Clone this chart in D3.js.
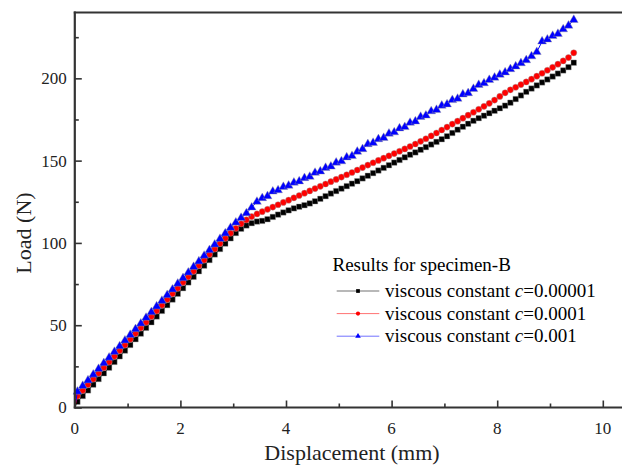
<!DOCTYPE html>
<html>
<head>
<meta charset="utf-8">
<script src="https://cdn.jsdelivr.net/npm/d3@7"></script>
<style>
  html, body { margin: 0; padding: 0; background: #fff; }
  svg { display: block; }
  svg text { font-family: "Liberation Serif", "DejaVu Serif", serif; }
</style>
</head>
<body>
<div id="chart"></div>
<script>
// displacement (mm): origin, then one reading every 0.1 mm
const disp = [0,
  0.05, 0.15, 0.25, 0.35, 0.45, 0.55, 0.65, 0.75, 0.85, 0.95,
  1.05, 1.15, 1.25, 1.35, 1.45, 1.55, 1.65, 1.75, 1.85, 1.95,
  2.05, 2.15, 2.25, 2.35, 2.45, 2.55, 2.65, 2.75, 2.85, 2.95,
  3.05, 3.15, 3.25, 3.35, 3.45, 3.55, 3.65, 3.75, 3.85, 3.95,
  4.05, 4.15, 4.25, 4.35, 4.45, 4.55, 4.65, 4.75, 4.85, 4.95,
  5.05, 5.15, 5.25, 5.35, 5.45, 5.55, 5.65, 5.75, 5.85, 5.95,
  6.05, 6.15, 6.25, 6.35, 6.45, 6.55, 6.65, 6.75, 6.85, 6.95,
  7.05, 7.15, 7.25, 7.35, 7.45, 7.55, 7.65, 7.75, 7.85, 7.95,
  8.05, 8.15, 8.25, 8.35, 8.45, 8.55, 8.65, 8.75, 8.85, 8.95,
  9.05, 9.15, 9.25, 9.35, 9.45];

// load (N), c = 0.00001
const loadC5 = [0,
  3.5, 7.0, 10.4, 13.9, 17.3, 20.8, 24.2, 27.7, 31.1, 34.6,
  38.0, 41.5, 44.9, 48.4, 51.8, 55.3, 58.7, 62.2, 65.6, 69.1,
  72.5, 76.0, 79.4, 82.8, 86.2, 89.6, 93.0, 96.3, 99.6, 102.8,
  106.0, 108.6, 110.6, 112.0, 113.0, 113.4, 114.4, 115.8, 117.2, 118.5,
  119.8, 121.0, 122.0, 122.9, 124.0, 125.3, 126.8, 128.4, 130.0, 131.5,
  133.0, 134.5, 136.0, 137.5, 139.2, 140.8, 142.4, 144.0, 145.6, 147.2,
  148.8, 150.4, 152.0, 153.6, 155.0, 156.6, 158.2, 159.8, 161.4, 163.0,
  164.8, 166.8, 168.8, 170.6, 172.4, 174.2, 175.8, 177.3, 178.8, 180.3,
  181.8, 183.4, 185.2, 187.4, 189.6, 191.8, 193.8, 195.7, 197.5, 199.3,
  201.1, 202.9, 204.8, 206.8, 209.5];

// load (N), c = 0.0001
const loadC4 = [0,
  7.0, 10.4, 13.9, 17.3, 20.8, 24.2, 27.7, 31.1, 34.6, 38.0,
  41.5, 44.9, 48.4, 51.8, 55.3, 58.7, 62.2, 65.6, 69.1, 72.5,
  76.0, 79.4, 82.8, 86.2, 89.6, 93.0, 96.3, 99.6, 102.8, 105.9,
  108.8, 111.6, 114.0, 116.0, 117.6, 119.0, 120.4, 121.8, 123.2, 124.6,
  126.0, 127.4, 128.8, 130.2, 131.6, 133.0, 134.4, 135.8, 137.2, 138.6,
  140.0, 141.4, 142.8, 144.3, 145.8, 147.3, 148.7, 150.1, 151.5, 152.9,
  154.3, 155.7, 157.1, 158.6, 160.1, 161.7, 163.3, 165.0, 166.8, 168.6,
  170.4, 172.2, 174.0, 175.8, 177.6, 179.4, 181.2, 183.0, 184.8, 186.8,
  189.0, 191.2, 193.0, 194.6, 196.2, 197.8, 199.5, 201.3, 203.1, 204.9,
  206.7, 208.6, 210.6, 212.6, 215.5];

// load (N), c = 0.001
const loadC3 = [0,
  9.6, 13.1, 16.5, 20.0, 23.4, 26.9, 30.3, 33.8, 37.2, 40.7,
  44.1, 47.6, 51.0, 54.5, 57.9, 61.4, 64.8, 68.3, 71.7, 75.2,
  78.6, 82.0, 85.4, 88.8, 92.2, 95.6, 99.0, 102.4, 105.8, 109.2,
  112.4, 115.2, 118.0, 121.5, 125.0, 127.2, 128.4, 131.2, 132.0, 134.0,
  134.8, 136.6, 137.4, 139.4, 140.2, 142.6, 143.4, 145.6, 146.4, 148.8,
  149.6, 152.0, 152.8, 155.4, 157.0, 160.0, 160.8, 163.0, 163.8, 166.4,
  167.2, 169.6, 170.4, 173.0, 173.8, 176.6, 177.4, 180.0, 180.8, 183.4,
  184.2, 186.8, 187.6, 190.2, 191.0, 193.6, 196.0, 197.0, 199.0, 200.4,
  202.2, 203.6, 205.6, 207.2, 209.2, 211.0, 213.4, 216.0, 222.4, 223.6,
  225.8, 227.0, 229.8, 232.0, 235.5];

const seriesNames = ["viscous constant ", "viscous constant ", "viscous constant "];
const seriesValues = ["=0.00001", "=0.0001", "=0.001"];
const xTicks = [0, 2, 4, 6, 8, 10];
const yTicks = [0, 50, 100, 150, 200];

const width = 622, height = 465;
const plot = { left: 74.8, top: 12.5, bottom: 407.5, right: 622 };
const serif = "'Liberation Serif', 'DejaVu Serif', serif";

const svg = d3.select("#chart").append("svg")
    .attr("width", width)
    .attr("height", height);

const x = d3.scaleLinear().domain([0, 10]).range([plot.left, plot.left + 528]);
const y = d3.scaleLinear().domain([0, 240]).range([plot.bottom, plot.top]);

const axisColor = "#333";

// series
const series = [
  { values: loadC5, color: "#000000", symbol: d3.symbolSquare, size: 30 },
  { values: loadC4, color: "#ff0000", symbol: d3.symbolCircle, size: 30 },
  { values: loadC3, color: "#0000ff", symbol: d3.symbolTriangle, size: 34 }
];

const line = d3.line().x(d => x(d[0])).y(d => y(d[1]));

series.forEach(s => {
  const pts = disp.map((d, i) => [d, s.values[i]]);
  const g = svg.append("g");
  g.append("path")
      .datum(pts)
      .attr("fill", "none")
      .attr("stroke", s.color)
      .attr("stroke-width", 1)
      .attr("d", line);
  g.selectAll("path.mk")
      .data(pts.filter(p => p[0] > 0))
      .enter()
      .append("path")
      .attr("class", "mk")
      .attr("transform", p => `translate(${x(p[0])},${y(p[1])})`)
      .attr("d", d3.symbol().type(s.symbol).size(s.size))
      .attr("fill", s.color)
      .attr("stroke", "#999")
      .attr("stroke-width", 0.4);
});

// axes (ticks inside)
svg.append("g")
    .attr("transform", `translate(0,${plot.bottom})`)
    .call(d3.axisTop(x).tickValues(xTicks).tickSize(7).tickFormat(""));
svg.append("g")
    .attr("transform", `translate(0,${plot.bottom})`)
    .call(d3.axisTop(x).tickValues([1, 3, 5, 7, 9]).tickSize(4).tickFormat(""));
svg.append("g")
    .attr("transform", `translate(${plot.left},0)`)
    .call(d3.axisRight(y).tickValues(yTicks).tickSize(7).tickFormat(""));
svg.append("g")
    .attr("transform", `translate(${plot.left},0)`)
    .call(d3.axisRight(y).tickValues([25, 75, 125, 175, 225]).tickSize(4).tickFormat(""));
svg.selectAll(".domain").remove();
svg.selectAll(".tick line").attr("stroke", axisColor).attr("stroke-width", 1.6);

// axis lines and top border
svg.append("line").attr("x1", plot.left - 1).attr("x2", plot.right)
    .attr("y1", plot.bottom).attr("y2", plot.bottom)
    .attr("stroke", axisColor).attr("stroke-width", 2.2);
svg.append("line").attr("x1", plot.left - 1).attr("x2", plot.right)
    .attr("y1", plot.top).attr("y2", plot.top)
    .attr("stroke", axisColor).attr("stroke-width", 2.2);
svg.append("line").attr("x1", plot.left).attr("x2", plot.left)
    .attr("y1", plot.top - 1).attr("y2", plot.bottom + 1)
    .attr("stroke", axisColor).attr("stroke-width", 2.2);

// tick labels
svg.append("g").selectAll("text")
    .data(xTicks).enter().append("text")
    .attr("x", d => x(d))
    .attr("y", plot.bottom + 26)
    .attr("text-anchor", "middle")
    .attr("font-family", serif)
    .attr("font-size", 17)
    .attr("fill", "#222")
    .text(d => d);
svg.append("g").selectAll("text")
    .data(yTicks).enter().append("text")
    .attr("x", plot.left - 8)
    .attr("y", d => y(d))
    .attr("dy", "0.35em")
    .attr("text-anchor", "end")
    .attr("font-family", serif)
    .attr("font-size", 17)
    .attr("fill", "#222")
    .text(d => d);

// axis titles
svg.append("text")
    .attr("x", 352)
    .attr("y", 460)
    .attr("text-anchor", "middle")
    .attr("font-family", serif)
    .attr("font-size", 22)
    .attr("fill", "#222")
    .text("Displacement (mm)");
svg.append("text")
    .attr("transform", "translate(31,233) rotate(-90)")
    .attr("text-anchor", "middle")
    .attr("font-family", serif)
    .attr("font-size", 22)
    .attr("fill", "#222")
    .text("Load (N)");

// legend
const legend = svg.append("g");
legend.append("text")
    .attr("x", 332.5)
    .attr("y", 271)
    .attr("font-family", serif)
    .attr("font-size", 19)
    .text("Results for specimen-B");
series.forEach((s, i) => {
  const yy = 291 + i * 22.6;
  legend.append("line")
      .attr("x1", 336.7).attr("x2", 379.3)
      .attr("y1", yy).attr("y2", yy)
      .attr("stroke", s.color).attr("stroke-width", 0.8)
      .attr("stroke-opacity", 0.7);
  legend.append("path")
      .attr("transform", `translate(358,${yy})`)
      .attr("d", d3.symbol().type(s.symbol).size(14))
      .attr("fill", s.color);
  const t = legend.append("text")
      .attr("x", 385)
      .attr("y", yy + 6)
      .attr("font-family", serif)
      .attr("font-size", 19);
  t.append("tspan").text(seriesNames[i]);
  t.append("tspan").attr("font-style", "italic").text("c");
  t.append("tspan").text(seriesValues[i]);
});
</script>
</body>
</html>
